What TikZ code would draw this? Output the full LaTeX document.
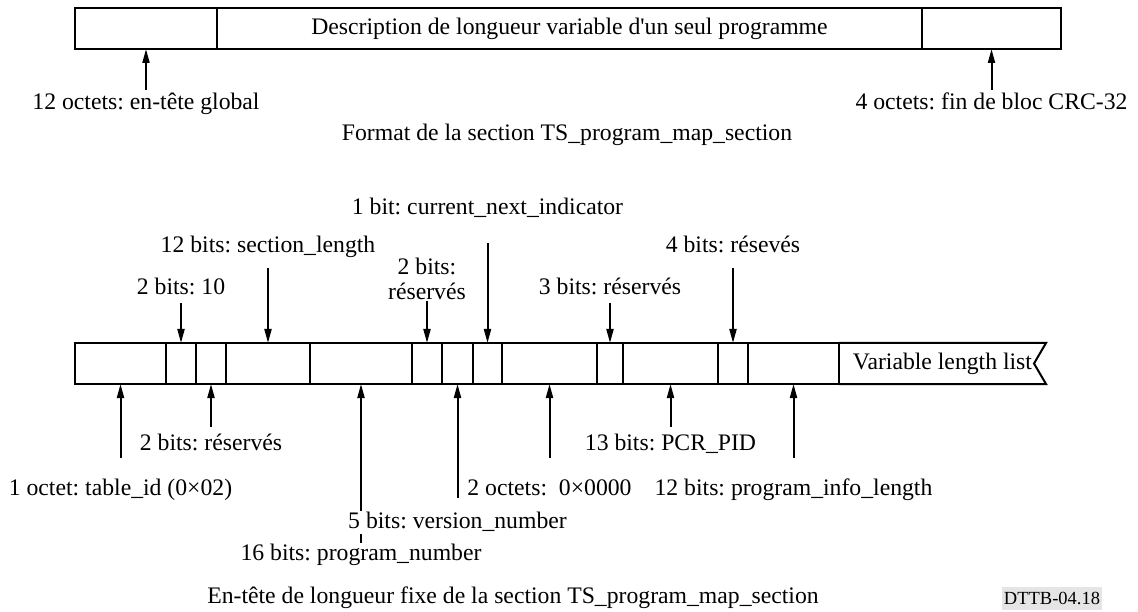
\documentclass[tikz,border=0pt]{standalone}
\usepackage{fontspec}
\setmainfont{Liberation Serif}[Ligatures=TeXOff]
\frenchspacing
\usetikzlibrary{positioning,arrows.meta,backgrounds}
\tikzset{
field/.style={
draw,
line width=2pt,
inner sep=0pt,
outer sep=0pt,
minimum height=41pt
},
txt/.style={
inner sep=1pt,
fill=white
},
tag/.style={
txt,
text height=16pt,
text depth=5pt
},
arrow/.style={
-{Triangle[length=14pt,width=7pt]},
line width=2pt
}
}

\begin{document}
\begin{tikzpicture}[x=1pt,y=-1pt,font=\fontsize{23.7}{25}\selectfont]
\useasboundingbox (0,0) rectangle (1138,612);

% format de la section
\node[field,anchor=north west,minimum width=142pt](hd) at (75,8){};
\node[field,right=0pt of hd,minimum width=705pt](desc){Description de longueur variable d'un seul programme};
\node[field,right=0pt of desc,minimum width=139pt](crc){};
\node[tag,below=43pt of hd](glob){12 octets: en-tête global};
\node[tag,below=43pt of crc](crcl){4 octets: fin de bloc CRC-32};
\node[tag](fmt) at (567,135.5){Format de la section TS\_program\_map\_section};

% en-tete fixe
\node[field,anchor=north west,minimum width=91pt](f1) at (75,343){};
\node[field,right=0pt of f1,minimum width=30pt](f2){};
\node[field,right=0pt of f2,minimum width=30pt](f3){};
\node[field,right=0pt of f3,minimum width=84pt](f4){};
\node[field,right=0pt of f4,minimum width=102pt](f5){};
\node[field,right=0pt of f5,minimum width=30pt](f6){};
\node[field,right=0pt of f6,minimum width=31pt](f7){};
\node[field,right=0pt of f7,minimum width=29pt](f8){};
\node[field,right=0pt of f8,minimum width=95pt](f9){};
\node[field,right=0pt of f9,minimum width=26pt](f10){};
\node[field,right=0pt of f10,minimum width=95pt](f11){};
\node[field,right=0pt of f11,minimum width=30pt](f12){};
\node[field,right=0pt of f12,minimum width=91pt](f13){};
\node[inner sep=0pt,outer sep=0pt,minimum height=41pt,minimum width=207pt,right=0pt of f13](vll){Variable length list};
\draw[line width=2pt](vll.north west)--(vll.north east)--([xshift=-12pt]vll.east)--(vll.south east)--(vll.south west);

% labels au-dessus
\node[tag,above=42pt of f2](l10){2 bits: 10};
\node[tag,above=84pt of f4](lsec){12 bits: section\_length};
\node[txt,align=center,above=42pt of f6](lres1){2 bits:\\réservés};
\node[tag,above=122pt of f8](lcur){1 bit: current\_next\_indicator};
\node[tag,above=42pt of f10](lres3){3 bits: réservés};
\node[tag,above=84pt of f12](lres4){4 bits: résevés};

% labels en dessous
\node[tag,below=94pt of f1](ltab){1 octet: table\_id (0×02)};
\node[tag,below=49pt of f3](lres2){2 bits: réservés};
\node[tag,below=159pt of f5](lprog){16 bits: program\_number};
\node[tag,below=127pt of f7](lver){5 bits: version\_number};
\node[tag,below=94pt of f9](lzero){2 octets:~ 0×0000};
\node[tag,below=49pt of f11](lpcr){13 bits: PCR\_PID};
\node[tag,below=94pt of f13](linfo){12 bits: program\_info\_length};

\node[tag](cap) at (513,598){En-tête de longueur fixe de la section TS\_program\_map\_section};
\node[fill=gray!20,inner sep=2pt,minimum height=23pt,font=\fontsize{18.5}{20}\selectfont](dttb) at (1052,598.5){DTTB-04.18};

\begin{pgfonlayer}{background}
\draw[arrow,shorten <=2pt](glob)--(hd);
\draw[arrow,shorten <=2pt](crcl)--(crc);
\draw[arrow,shorten <=2pt](l10)--(f2);
\draw[arrow,shorten <=9pt](lsec)--(f4);
\draw[arrow](lres1)--(f6);
\draw[arrow,shorten <=22pt](lcur)--(f8);
\draw[arrow,shorten <=2pt](lres3)--(f10);
\draw[arrow,shorten <=9pt](lres4)--(f12);
\draw[arrow,shorten <=20pt](ltab)--(f1);
\draw[arrow,shorten <=6pt](lres2)--(f3);
\draw[arrow](lprog)--(f5);
\draw[arrow,shorten <=13pt](lver)--(f7);
\draw[arrow,shorten <=20pt](lzero)--(f9);
\draw[arrow,shorten <=6pt](lpcr)--(f11);
\draw[arrow,shorten <=20pt](linfo)--(f13);
\end{pgfonlayer}
\end{tikzpicture}
\end{document}
